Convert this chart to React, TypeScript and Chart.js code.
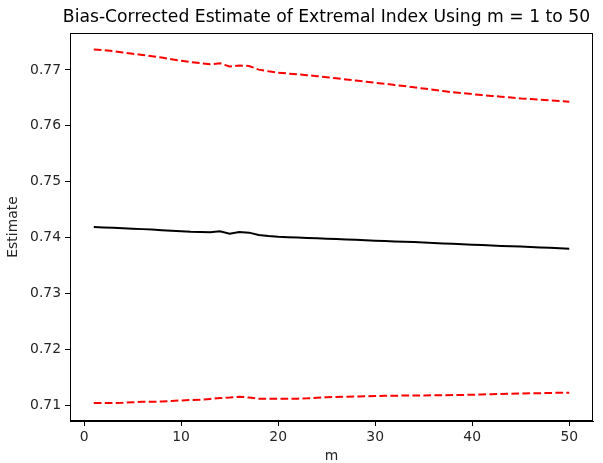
import React, { useEffect, useRef } from "react";
import { Chart, registerables } from "chart.js";

Chart.register(...registerables);

const mValues: number[] = Array.from({ length: 50 }, (_, i) => i + 1);

const estimate: number[] = [
  0.7419, 0.74183, 0.74176, 0.74169, 0.7416, 0.74152, 0.74144, 0.74134, 0.74124, 0.74114,
  0.74105, 0.741, 0.74095, 0.74113, 0.74071, 0.741, 0.74089, 0.74048, 0.7403, 0.74016,
  0.74008, 0.74, 0.73994, 0.73988, 0.73982, 0.73975, 0.73968, 0.7396, 0.73953, 0.73946,
  0.73939, 0.73932, 0.73926, 0.7392, 0.73913, 0.73905, 0.73897, 0.73889, 0.73881, 0.73873,
  0.73866, 0.73859, 0.73852, 0.73845, 0.73839, 0.73832, 0.73825, 0.73818, 0.7381, 0.73803,
];

const upper: number[] = [
  0.77363, 0.77352, 0.77335, 0.77313, 0.7729, 0.77267, 0.77244, 0.7722, 0.77192, 0.77165,
  0.7714, 0.7712, 0.771, 0.77118, 0.7706, 0.77077, 0.7707, 0.77005, 0.76975, 0.7695,
  0.76935, 0.7692, 0.76905, 0.76888, 0.7687, 0.7685, 0.7683, 0.7681, 0.7679, 0.7677,
  0.76752, 0.76732, 0.7671, 0.76688, 0.76666, 0.76645, 0.76622, 0.766, 0.76583, 0.76567,
  0.7655, 0.76535, 0.7652, 0.76505, 0.7649, 0.7648, 0.76467, 0.76455, 0.76443, 0.76432,
];

const lower: number[] = [
  0.71041, 0.7104, 0.7104, 0.71045, 0.71055, 0.71065, 0.71063, 0.71068, 0.71078, 0.71088,
  0.71095, 0.71102, 0.71115, 0.7113, 0.7114, 0.71155, 0.7114, 0.7112, 0.7112, 0.71118,
  0.71118, 0.7112, 0.71125, 0.71138, 0.71145, 0.7115, 0.71155, 0.71158, 0.71162, 0.71166,
  0.7117, 0.71173, 0.71175, 0.71177, 0.71178, 0.7118, 0.71182, 0.71183, 0.71185, 0.7119,
  0.71195, 0.712, 0.71204, 0.71208, 0.71212, 0.71215, 0.71218, 0.71222, 0.71225, 0.71227,
];

const xTicks: number[] = [0, 10, 20, 30, 40, 50];
const yTicks: number[] = [0.71, 0.72, 0.73, 0.74, 0.75, 0.76, 0.77];

const titleText = "Bias-Corrected Estimate of Extremal Index Using m = 1 to 50";
const xTitle = "m";
const yTitle = "Estimate";

const FONT = "'DejaVu Sans', sans-serif";
const TEXT = "#262626";

const frame = {
  id: "frame",
  afterDraw(chart: any) {
    const { ctx, chartArea } = chart;
    ctx.save();
    ctx.strokeStyle = "#000";
    ctx.lineWidth = 1;
    ctx.strokeRect(
      Math.round(chartArea.left) + 0.5,
      Math.round(chartArea.top) + 0.5,
      Math.round(chartArea.right - chartArea.left) - 1,
      Math.round(chartArea.bottom - chartArea.top) - 1
    );
    // title over the plotting area
    ctx.fillStyle = "#000";
    ctx.font = `17.2px ${FONT}`;
    ctx.textAlign = "center";
    ctx.textBaseline = "alphabetic";
    ctx.fillText(titleText, (chartArea.left + chartArea.right) / 2 - 5, 21.8);
    ctx.restore();
  },
};

export default function App() {
  const ref = useRef<HTMLCanvasElement | null>(null);
  useEffect(() => {
    if (!ref.current) return;
    const pts = (arr: number[]) => arr.map((v, i) => ({ x: mValues[i], y: v }));
    const chart = new Chart(ref.current, {
      type: "line",
      data: {
        datasets: [
          {
            data: pts(estimate),
            borderColor: "#000000",
            borderWidth: 2,
            pointRadius: 0,
            fill: false,
          },
          {
            data: pts(upper),
            borderColor: "#ff0000",
            borderWidth: 2,
            borderDash: [7.7, 3.3],
            pointRadius: 0,
            fill: false,
          },
          {
            data: pts(lower),
            borderColor: "#ff0000",
            borderWidth: 2,
            borderDash: [7.7, 3.3],
            pointRadius: 0,
            fill: false,
          },
        ],
      },
      options: {
        responsive: false,
        animation: false,
        layout: { padding: { left: 0, right: 10, top: 33, bottom: 0 } },
        plugins: {
          legend: { display: false },
          tooltip: { enabled: false },
          title: { display: false },
        },
        scales: {
          x: {
            type: "linear",
            min: -1.45,
            max: 52.45,
            afterBuildTicks: (s: any) => {
              s.ticks = xTicks.map((v) => ({ value: v }));
            },
            afterFit: (s: any) => {
              s.height = 42;
            },
            grid: {
              display: true,
              drawOnChartArea: false,
              drawTicks: true,
              tickLength: 5,
              tickColor: "#000",
            },
            border: { display: true, color: "#000", width: 1 },
            ticks: {
              color: TEXT,
              font: { family: FONT, size: 13.9 },
              padding: 3,
              maxRotation: 0,
              callback: (v: any) => String(v),
            },
            title: {
              display: true,
              text: xTitle,
              color: TEXT,
              font: { family: FONT, size: 13.9, lineHeight: 1.0 },
              padding: { top: 0, bottom: 0 },
            },
          },
          y: {
            type: "linear",
            min: 0.7072,
            max: 0.7766,
            afterBuildTicks: (s: any) => {
              s.ticks = yTicks.map((v) => ({ value: v }));
            },
            afterFit: (s: any) => {
              s.width = 70;
            },
            grid: {
              display: true,
              drawOnChartArea: false,
              drawTicks: true,
              tickLength: 5,
              tickColor: "#000",
            },
            border: { display: true, color: "#000", width: 1 },
            ticks: {
              color: TEXT,
              font: { family: FONT, size: 13.9 },
              padding: 4,
              callback: (v: any) => Number(v).toFixed(2),
            },
            title: {
              display: true,
              text: yTitle,
              color: TEXT,
              font: { family: FONT, size: 13.9, lineHeight: 1.2 },
              padding: { top: 5, bottom: 0 },
            },
          },
        },
      },
      plugins: [frame],
    });
    return () => chart.destroy();
  }, []);
  return (
    <div style={{ position: "fixed", left: 0, top: 0, width: 603, height: 463, background: "#fff" }}>
      <canvas ref={ref} width={603} height={463} style={{ display: "block" }} />
    </div>
  );
}
